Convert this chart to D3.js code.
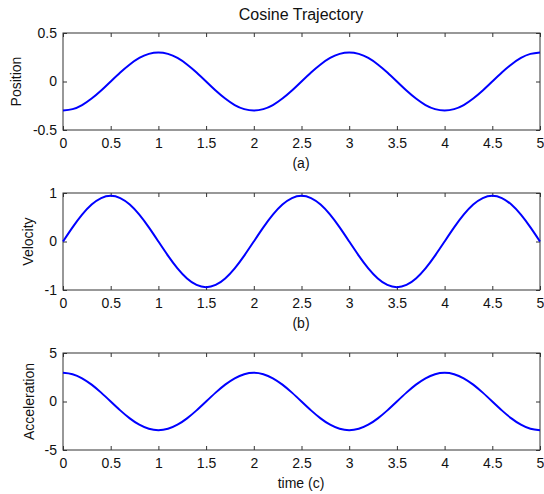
<!DOCTYPE html>
<html>
<head>
<meta charset="utf-8">
<script src="https://cdn.jsdelivr.net/npm/d3@7"></script>
<style>
  body { margin: 0; background: #fff; }
  text { font-family: "Liberation Sans", Arial, sans-serif; fill: #111; }
</style>
</head>
<body>
<div id="chart"></div>
<script>
const time = [0,0.1,0.2,0.3,0.4,0.5,0.6,0.7,0.8,0.9,1,1.1,1.2,1.3,1.4,1.5,1.6,1.7,1.8,1.9,2,
              2.1,2.2,2.3,2.4,2.5,2.6,2.7,2.8,2.9,3,3.1,3.2,3.3,3.4,3.5,3.6,3.7,3.8,3.9,4,
              4.1,4.2,4.3,4.4,4.5,4.6,4.7,4.8,4.9,5];

const position = [-0.30,-0.285,-0.243,-0.176,-0.093,0,0.093,0.176,0.243,0.285,0.30,
                  0.285,0.243,0.176,0.093,0,-0.093,-0.176,-0.243,-0.285,-0.30,
                  -0.285,-0.243,-0.176,-0.093,0,0.093,0.176,0.243,0.285,0.30,
                  0.285,0.243,0.176,0.093,0,-0.093,-0.176,-0.243,-0.285,-0.30,
                  -0.285,-0.243,-0.176,-0.093,0,0.093,0.176,0.243,0.285,0.30];

const velocity = [0,0.291,0.554,0.762,0.896,0.942,0.896,0.762,0.554,0.291,0,
                  -0.291,-0.554,-0.762,-0.896,-0.942,-0.896,-0.762,-0.554,-0.291,0,
                  0.291,0.554,0.762,0.896,0.942,0.896,0.762,0.554,0.291,0,
                  -0.291,-0.554,-0.762,-0.896,-0.942,-0.896,-0.762,-0.554,-0.291,0,
                  0.291,0.554,0.762,0.896,0.942,0.896,0.762,0.554,0.291,0];

const acceleration = [2.96,2.815,2.395,1.74,0.915,0,-0.915,-1.74,-2.395,-2.815,-2.96,
                      -2.815,-2.395,-1.74,-0.915,0,0.915,1.74,2.395,2.815,2.96,
                      2.815,2.395,1.74,0.915,0,-0.915,-1.74,-2.395,-2.815,-2.96,
                      -2.815,-2.395,-1.74,-0.915,0,0.915,1.74,2.395,2.815,2.96,
                      2.815,2.395,1.74,0.915,0,-0.915,-1.74,-2.395,-2.815,-2.96];

const xTicks = [0,0.5,1,1.5,2,2.5,3,3.5,4,4.5,5];

const panels = [
  {name: "Position", values: position, yDomain: [-0.5, 0.5], yTicks: [-0.5, 0, 0.5], caption: "(a)", top: 33, labelX: 16},
  {name: "Velocity", values: velocity, yDomain: [-1, 1], yTicks: [-1, 0, 1], caption: "(b)", top: 193, labelX: 28},
  {name: "Acceleration", values: acceleration, yDomain: [-5, 5], yTicks: [-5, 0, 5], caption: "time  (c)", top: 353, labelX: 29}
];

const W = 544, H = 494;
const left = 63, right = 540, plotH = 97;

// MATLAB style labels: plain hyphen for negatives
const fmt = d => String(d);

const svg = d3.select("#chart").append("svg")
              .attr("width", W)
              .attr("height", H);

svg.append("text")
   .attr("x", 301)
   .attr("y", 20)
   .attr("text-anchor", "middle")
   .style("font-size", "16px")
   .text("Cosine Trajectory");

const xScale = d3.scaleLinear().domain([0, 5]).range([left, right]);

panels.forEach(p => {
  const yScale = d3.scaleLinear().domain(p.yDomain).range([p.top + plotH, p.top]);
  const g = svg.append("g");

  // bottom axis with labels, inward ticks
  g.append("g")
   .attr("transform", "translate(0," + (p.top + plotH) + ")")
   .call(d3.axisBottom(xScale).tickValues(xTicks).tickSize(-4).tickPadding(8).tickFormat(fmt))
   .call(a => a.select(".domain").remove())
   .call(a => a.selectAll("line").attr("stroke", "#333"))
   .call(a => a.selectAll("text").style("font-size", "14px"));

  // top ticks
  g.append("g")
   .attr("transform", "translate(0," + p.top + ")")
   .call(d3.axisTop(xScale).tickValues(xTicks).tickSize(-4).tickFormat(""))
   .call(a => a.select(".domain").remove())
   .call(a => a.selectAll("line").attr("stroke", "#333"));

  // left axis
  g.append("g")
   .attr("transform", "translate(" + left + ",0)")
   .call(d3.axisLeft(yScale).tickValues(p.yTicks).tickSize(-4).tickPadding(6).tickFormat(fmt))
   .call(a => a.select(".domain").remove())
   .call(a => a.selectAll("line").attr("stroke", "#333"))
   .call(a => a.selectAll("text").style("font-size", "14px"));

  // right ticks
  g.append("g")
   .attr("transform", "translate(" + right + ",0)")
   .call(d3.axisRight(yScale).tickValues(p.yTicks).tickSize(-4).tickFormat(""))
   .call(a => a.select(".domain").remove())
   .call(a => a.selectAll("line").attr("stroke", "#333"));

  // box
  g.append("rect")
   .attr("x", left)
   .attr("y", p.top)
   .attr("width", right - left)
   .attr("height", plotH)
   .attr("fill", "none")
   .attr("stroke", "#333")
   .attr("stroke-width", 1);

  const line = d3.line()
                 .x((d, i) => xScale(time[i]))
                 .y(d => yScale(d))
                 .curve(d3.curveNatural);

  g.append("path")
   .datum(p.values)
   .attr("d", line)
   .attr("fill", "none")
   .attr("stroke", "#0000ff")
   .attr("stroke-width", 2);

  // y label
  g.append("text")
   .attr("transform", "translate(" + p.labelX + "," + (p.top + plotH / 2) + ") rotate(-90)")
   .attr("text-anchor", "middle")
   .attr("dy", "0.35em")
   .style("font-size", "14px")
   .text(p.name);

  // caption
  g.append("text")
   .attr("x", 301)
   .attr("y", p.top + plotH + 38)
   .attr("text-anchor", "middle")
   .style("font-size", "14px")
   .text(p.caption);
});
</script>
</body>
</html>
